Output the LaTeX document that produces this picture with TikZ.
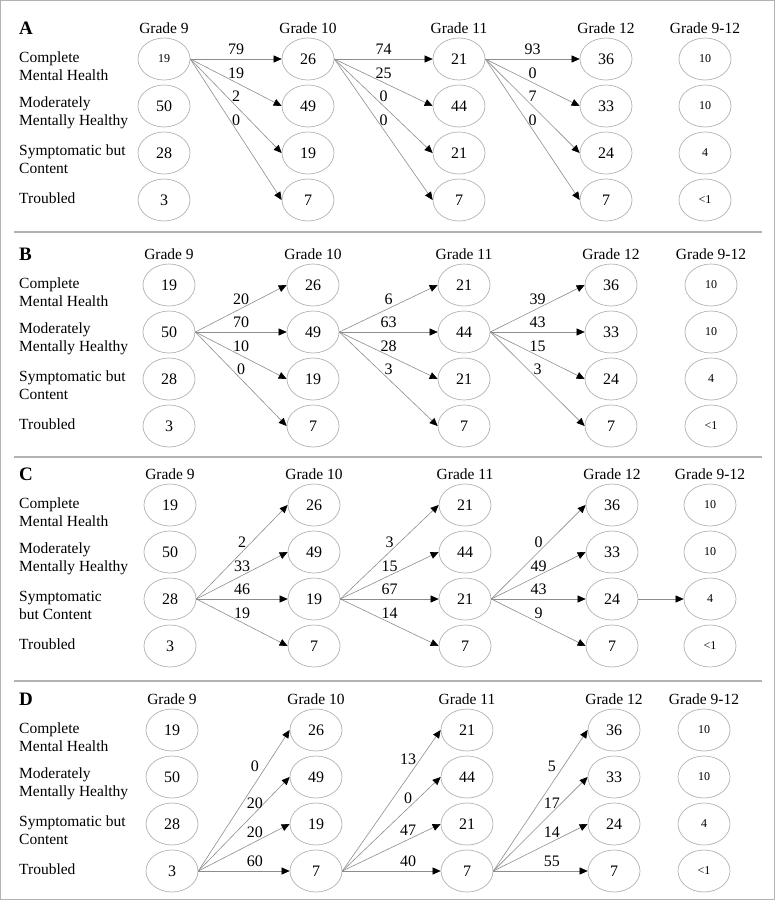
\documentclass[tikz,border=0pt]{standalone}
\usepackage{fontspec}
\setmainfont{Liberation Serif}
\usetikzlibrary{shapes.geometric,arrows.meta}

\newcommand{\smallnum}{\fontsize{12}{12}\selectfont}
\newcommand{\bignum}{\fontsize{16}{16}\selectfont}

\tikzset{
  state/.style={ellipse, draw=gray!60, line width=0.7pt, minimum width=52pt, minimum height=42pt, inner sep=0pt, font=\bignum},
  tiny/.style={font=\smallnum},
  flow/.style={draw=gray!90, line width=0.6pt, -{Triangle[length=8pt, width=7pt, color=black]}},
  rate/.style={above, inner sep=4pt, font=\bignum},
  grade/.style={font=\fontsize{15.5}{16}\selectfont},
  status/.style={anchor=west, align=left, inner sep=0pt, font=\fontsize{15.5}{18}\selectfont},
  panel/.style={anchor=west, inner sep=0pt, font=\fontsize{19}{19}\selectfont\bfseries},
  rule/.style={draw=gray!60, line width=1.3pt},
}

% #1 panel, #2 header y, #3 x shift, #4 x of last column, #5 first value, #6 third status
\newcommand{\grid}[6]{%
  \node[panel] (#1) at (19,#2) {#1};
  \foreach \s/\dy [count=\r] in {{Complete\\Mental Health}/38, {Moderately\\Mentally Healthy}/85, {#6}/131, Troubled/170}
    \node[status] (#1s\r) at (19,#2+\dy) {\s};
  \foreach \g/\cx/\vals [count=\c] in {Grade 9/168/{#5,50,28,3}, Grade 10/312/{26,49,19,7}, Grade 11/463/{21,44,21,7}, Grade 12/610/{36,33,24,7}} {
    \node[grade] (#1g\c) at (\cx+#3,#2) {\g};
    \foreach \v [count=\r] in \vals
      \node[state] (#1\c\r) at (\cx+#3,#2+\r*47-16) {\v};
  }
  \node[grade] (#1g5) at (#4,#2) {Grade 9-12};
  \foreach \v [count=\r] in {10,10,4,<1}
    \node[state, tiny] (#15\r) at (#4,#2+\r*47-16) {\v};
}

\begin{document}
\begin{tikzpicture}[x=1pt, y=-1pt]
  \useasboundingbox (0,0) rectangle (775,900);
  \draw[rule] (0.7,0.7) rectangle (774.3,899.3);
  \foreach \y in {232,457,681}
    \draw[rule] (14,\y) -- (762,\y);

  \grid{A}{28}{-4}{705}{\smallnum 19}{Symptomatic but\\Content}
  \grid{B}{254}{1}{711}{19}{Symptomatic but\\Content}
  \grid{C}{474}{2}{710}{19}{Symptomatic\\but Content}
  \grid{D}{699}{4}{704}{19}{Symptomatic but\\Content}

  \foreach \p/\s/\c/\w/\lift/\rates in {
      A/1/1/.5/0/{79,19,2,0}, A/1/2/.5/0/{74,25,0,0}, A/1/3/.5/0/{93,0,7,0},
      B/2/1/.5/0/{20,70,10,0}, B/2/2/.5/0/{6,63,28,3}, B/2/3/.5/0/{39,43,15,3},
      C/3/1/.5/0/{2,33,46,19}, C/3/2/.5/0/{3,15,67,14}, C/3/3/.5/0/{0,49,43,9},
      D/4/1/.62/8/{0,20,20,60}, D/4/2/.67/8/{13,0,47,40}, D/4/3/.62/8/{5,17,14,55}} {
    \pgfmathtruncatemacro{\n}{\c+1}
    \foreach \t [count=\r] in \rates
      \draw[flow] (\p\c\s.east) -- node[rate, pos=\w, yshift={(\r==1)*\lift}] {\t} (\p\n\r.west);
  }
  \draw[flow] (C43.east) -- (C53.west);
\end{tikzpicture}
\end{document}
